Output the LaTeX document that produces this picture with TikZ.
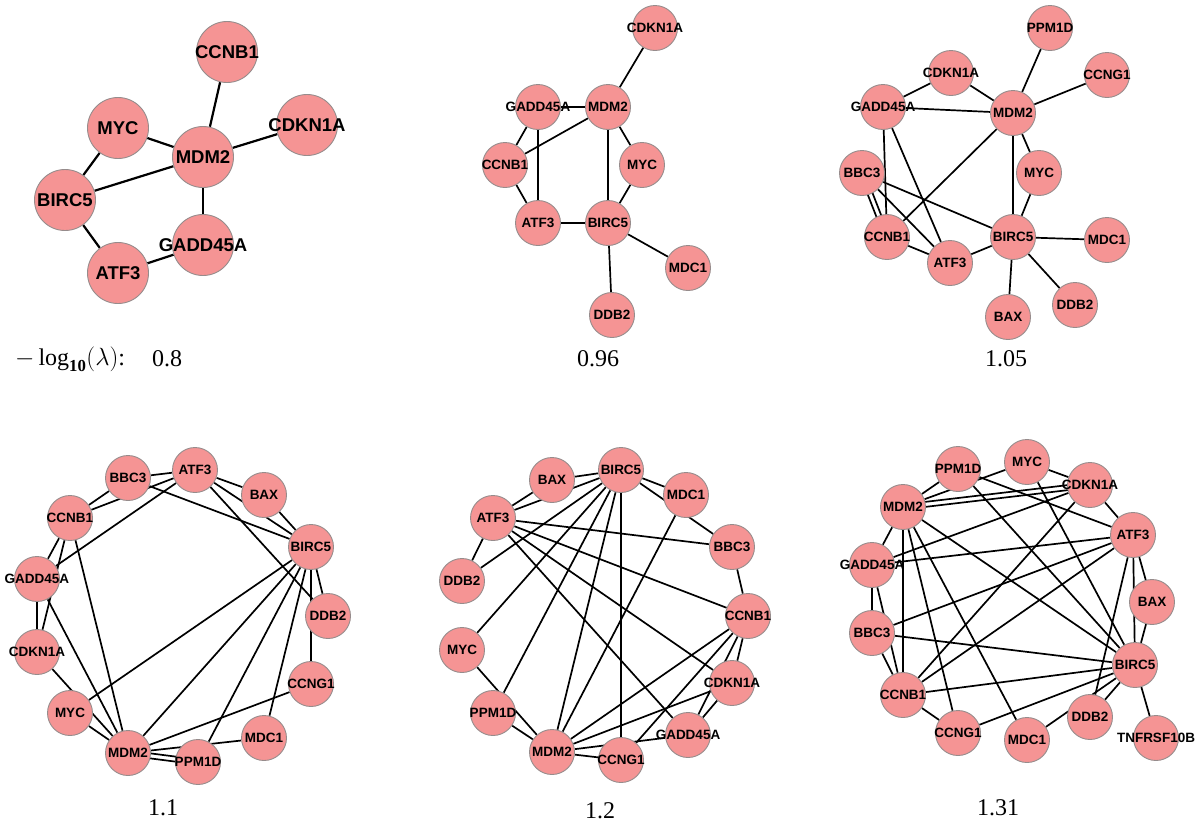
\documentclass[tikz,border=0pt]{standalone}
\usepackage{fontspec}
\setmainfont{Liberation Serif}
\newfontfamily\labf{Liberation Sans}
\usetikzlibrary{backgrounds,calc}
\definecolor{nodefill}{RGB}{245,148,148}
\definecolor{nodeborder}{RGB}{150,140,140}
\tikzset{
  gn/.style={circle, fill=nodefill, draw=nodeborder, line width=0.9pt, minimum size=45pt, inner sep=0pt},
  gbig/.style={gn, minimum size=61pt},
  lab/.style={font=\labf\bfseries\fontsize{13.5}{15}\selectfont, inner sep=0pt},
  labbig/.style={font=\labf\bfseries\fontsize{18.5}{20}\selectfont, inner sep=0pt},
  edge/.style={line width=1.7pt, black},
  edgebig/.style={line width=2.2pt, black},
  num/.style={font=\fontsize{24}{28}\selectfont, inner sep=0pt}
}
\newcommand\gnode[3]{\node[gn,label={[lab]center:#3}] (#1) at (#2) {};}
\newcommand\gbnode[3]{\node[gbig,label={[labbig]center:#3}] (#1) at (#2) {};}
\newcommand\ed[2]{\draw[edge] (#1) -- (#2);}
\newcommand\edb[2]{\draw[edgebig] (#1) -- (#2);}
\newcommand\dd[2]{\draw[edge] ($(#1)!2.5pt!90:(#2)$) -- ($(#2)!2.5pt!-90:(#1)$);
  \draw[edge] ($(#1)!2.5pt!-90:(#2)$) -- ($(#2)!2.5pt!90:(#1)$);}
\begin{document}
\begin{tikzpicture}[x=1pt,y=-1pt]
\useasboundingbox (0,0) rectangle (1200,836);
% ---------- panel a (0.8)
\gbnode{aCCNB1}{227,52}{CCNB1}
\gbnode{aMYC}{118,128}{MYC}
\gbnode{aMDM2}{203,157}{MDM2}
\gbnode{aCDKN1A}{307,125}{CDKN1A}
\gbnode{aBIRC5}{65,200}{BIRC5}
\gbnode{aGADD45A}{203,245}{GADD45A}
\gbnode{aATF3}{118,273}{ATF3}
\node[num] (lamlab) at (70,359) {$-\log_{\mathbf{10}}(\lambda)$:};
\node[num] (lab08) at (167,359) {0.8};
% ---------- panel b (0.96)
\gnode{bCDKN1A}{655,28}{CDKN1A}
\gnode{bGADD45A}{538,107}{GADD45A}
\gnode{bMDM2}{608,107}{MDM2}
\gnode{bCCNB1}{505,165}{CCNB1}
\gnode{bMYC}{642,165}{MYC}
\gnode{bATF3}{538,223}{ATF3}
\gnode{bBIRC5}{608,223}{BIRC5}
\gnode{bMDC1}{688,268}{MDC1}
\gnode{bDDB2}{612,315}{DDB2}
\node[num] (lab096) at (598,359) {0.96};
% ---------- panel c (1.05)
\gnode{cPPM1D}{1050,28}{PPM1D}
\gnode{cCCNG1}{1107,75}{CCNG1}
\gnode{cCDKN1A}{951,73}{CDKN1A}
\gnode{cGADD45A}{883,107}{GADD45A}
\gnode{cMDM2}{1013,113}{MDM2}
\gnode{cBBC3}{862,173}{BBC3}
\gnode{cMYC}{1039,173}{MYC}
\gnode{cCCNB1}{887,237}{CCNB1}
\gnode{cBIRC5}{1013,237}{BIRC5}
\gnode{cATF3}{950,263}{ATF3}
\gnode{cMDC1}{1107,240}{MDC1}
\gnode{cBAX}{1008,317}{BAX}
\gnode{cDDB2}{1075,305}{DDB2}
\node[num] (lab105) at (1006,359) {1.05};
% ---------- panel d (1.1)
\gnode{dATF3}{195,470}{ATF3}
\gnode{dBBC3}{128,478}{BBC3}
\gnode{dBAX}{264,495}{BAX}
\gnode{dCCNB1}{70,518}{CCNB1}
\gnode{dBIRC5}{311,547}{BIRC5}
\gnode{dGADD45A}{37,579}{GADD45A}
\gnode{dDDB2}{328,616}{DDB2}
\gnode{dCDKN1A}{37,652}{CDKN1A}
\gnode{dCCNG1}{311,684}{CCNG1}
\gnode{dMYC}{70,713}{MYC}
\gnode{dMDC1}{264,738}{MDC1}
\gnode{dMDM2}{128,753}{MDM2}
\gnode{dPPM1D}{198,762}{PPM1D}
\node[num] (lab11) at (163,808) {1.1};
% ---------- panel e (1.2)
\gnode{eBIRC5}{621,470}{BIRC5}
\gnode{eBAX}{552,480}{BAX}
\gnode{eMDC1}{686,495}{MDC1}
\gnode{eATF3}{493,518}{ATF3}
\gnode{eBBC3}{732,547}{BBC3}
\gnode{eDDB2}{462,581}{DDB2}
\gnode{eCCNB1}{748,616}{CCNB1}
\gnode{eMYC}{462,650}{MYC}
\gnode{eCDKN1A}{732,683}{CDKN1A}
\gnode{ePPM1D}{493,713}{PPM1D}
\gnode{eGADD45A}{688,735}{GADD45A}
\gnode{eMDM2}{552,752}{MDM2}
\gnode{eCCNG1}{621,760}{CCNG1}
\node[num] (lab12) at (600,811) {1.2};
% ---------- panel f (1.31)
\gnode{fMYC}{1027,462}{MYC}
\gnode{fPPM1D}{958,469}{PPM1D}
\gnode{fCDKN1A}{1090,485}{CDKN1A}
\gnode{fMDM2}{903,507}{MDM2}
\gnode{fATF3}{1133,535}{ATF3}
\gnode{fGADD45A}{872,565}{GADD45A}
\gnode{fBAX}{1152,602}{BAX}
\gnode{fBBC3}{872,633}{BBC3}
\gnode{fBIRC5}{1135,665}{BIRC5}
\gnode{fCCNB1}{903,695}{CCNB1}
\gnode{fDDB2}{1090,717}{DDB2}
\gnode{fCCNG1}{958,733}{CCNG1}
\gnode{fMDC1}{1027,740}{MDC1}
\gnode{fTNF}{1156,738}{TNFRSF10B}
\node[num] (lab131) at (998,808) {1.31};
\begin{pgfonlayer}{background}
\fill[white] (0,0) rectangle (1200,836);
% a
\edb{aCCNB1}{aMDM2} \edb{aMYC}{aMDM2} \edb{aMDM2}{aCDKN1A} \edb{aMYC}{aBIRC5}
\edb{aBIRC5}{aMDM2} \edb{aMDM2}{aGADD45A} \edb{aBIRC5}{aATF3} \edb{aATF3}{aGADD45A}
% b
\ed{bCDKN1A}{bMDM2} \ed{bGADD45A}{bMDM2} \ed{bGADD45A}{bCCNB1} \ed{bGADD45A}{bATF3}
\ed{bMDM2}{bCCNB1} \ed{bMDM2}{bBIRC5} \ed{bMDM2}{bMYC} \ed{bCCNB1}{bATF3}
\ed{bMYC}{bBIRC5} \ed{bATF3}{bBIRC5} \ed{bBIRC5}{bMDC1} \ed{bBIRC5}{bDDB2}
% c
\ed{cPPM1D}{cMDM2} \ed{cCCNG1}{cMDM2} \ed{cCDKN1A}{cMDM2} \ed{cCDKN1A}{cGADD45A}
\ed{cGADD45A}{cMDM2} \ed{cGADD45A}{cCCNB1} \ed{cGADD45A}{cATF3} \ed{cMDM2}{cCCNB1}
\ed{cMDM2}{cBIRC5} \ed{cMDM2}{cMYC} \ed{cMYC}{cBIRC5} \dd{cBBC3}{cCCNB1}
\ed{cBBC3}{cATF3} \ed{cBBC3}{cBIRC5} \ed{cCCNB1}{cATF3} \ed{cATF3}{cBIRC5}
\ed{cBIRC5}{cMDC1} \ed{cBIRC5}{cBAX} \ed{cBIRC5}{cDDB2}
% d
\ed{dBBC3}{dATF3} \ed{dCCNB1}{dBBC3} \ed{dCCNB1}{dATF3} \ed{dATF3}{dGADD45A}
\ed{dBBC3}{dBIRC5} \ed{dATF3}{dBAX} \ed{dATF3}{dBIRC5} \ed{dBAX}{dBIRC5}
\ed{dATF3}{dDDB2} \ed{dBIRC5}{dDDB2} \ed{dBIRC5}{dCCNG1} \ed{dBIRC5}{dMYC}
\ed{dBIRC5}{dMDM2} \ed{dBIRC5}{dPPM1D} \ed{dBIRC5}{dMDC1} \ed{dCCNB1}{dGADD45A}
\ed{dCCNB1}{dCDKN1A} \ed{dGADD45A}{dCDKN1A} \ed{dGADD45A}{dMDM2} \ed{dCCNB1}{dMDM2}
\ed{dCDKN1A}{dMDM2} \ed{dMYC}{dMDM2} \ed{dMDM2}{dCCNG1} \ed{dMDM2}{dMDC1}
\dd{dMDM2}{dPPM1D}
% e
\ed{eBAX}{eBIRC5} \ed{eATF3}{eBAX} \ed{eATF3}{eBIRC5} \ed{eATF3}{eDDB2}
\ed{eBIRC5}{eDDB2} \ed{eBIRC5}{eMDC1} \ed{eBIRC5}{eBBC3} \ed{eATF3}{eBBC3}
\ed{eATF3}{eCCNB1} \ed{eATF3}{eCDKN1A} \ed{eATF3}{eGADD45A} \ed{eBIRC5}{eMYC}
\ed{eBIRC5}{ePPM1D} \ed{eBIRC5}{eMDM2} \ed{eBIRC5}{eCCNG1} \ed{eMDC1}{eMDM2}
\ed{eBBC3}{eCCNB1} \ed{eCCNB1}{eMDM2} \ed{eCCNB1}{eCCNG1} \ed{eCCNB1}{eCDKN1A}
\ed{eCCNB1}{eGADD45A} \ed{eCDKN1A}{eMDM2} \ed{eCDKN1A}{eGADD45A} \ed{eGADD45A}{eMDM2}
\ed{eMYC}{eMDM2} \ed{ePPM1D}{eMDM2} \ed{eMDM2}{eCCNG1}
% f
\ed{fMDM2}{fPPM1D} \ed{fMDM2}{fMYC} \ed{fMYC}{fCDKN1A} \dd{fMDM2}{fCDKN1A}
\ed{fPPM1D}{fATF3} \ed{fPPM1D}{fBIRC5} \ed{fMYC}{fBIRC5} \ed{fCDKN1A}{fATF3}
\ed{fCDKN1A}{fCCNB1} \ed{fMDM2}{fGADD45A} \ed{fMDM2}{fCCNB1} \ed{fMDM2}{fCCNG1}
\ed{fMDM2}{fMDC1} \ed{fMDM2}{fBIRC5} \ed{fGADD45A}{fCDKN1A} \ed{fGADD45A}{fATF3}
\ed{fATF3}{fBBC3} \ed{fATF3}{fCCNB1} \ed{fATF3}{fBAX} \ed{fATF3}{fBIRC5}
\ed{fBAX}{fBIRC5} \ed{fATF3}{fDDB2} \ed{fBBC3}{fBIRC5} \ed{fCCNB1}{fBIRC5}
\ed{fCCNG1}{fBIRC5} \ed{fMDC1}{fBIRC5} \ed{fDDB2}{fBIRC5} \ed{fBIRC5}{fTNF}
\ed{fCCNB1}{fCCNG1} \ed{fGADD45A}{fBBC3} \ed{fGADD45A}{fCCNB1} \ed{fBBC3}{fCCNB1}
\end{pgfonlayer}
\end{tikzpicture}
\end{document}
